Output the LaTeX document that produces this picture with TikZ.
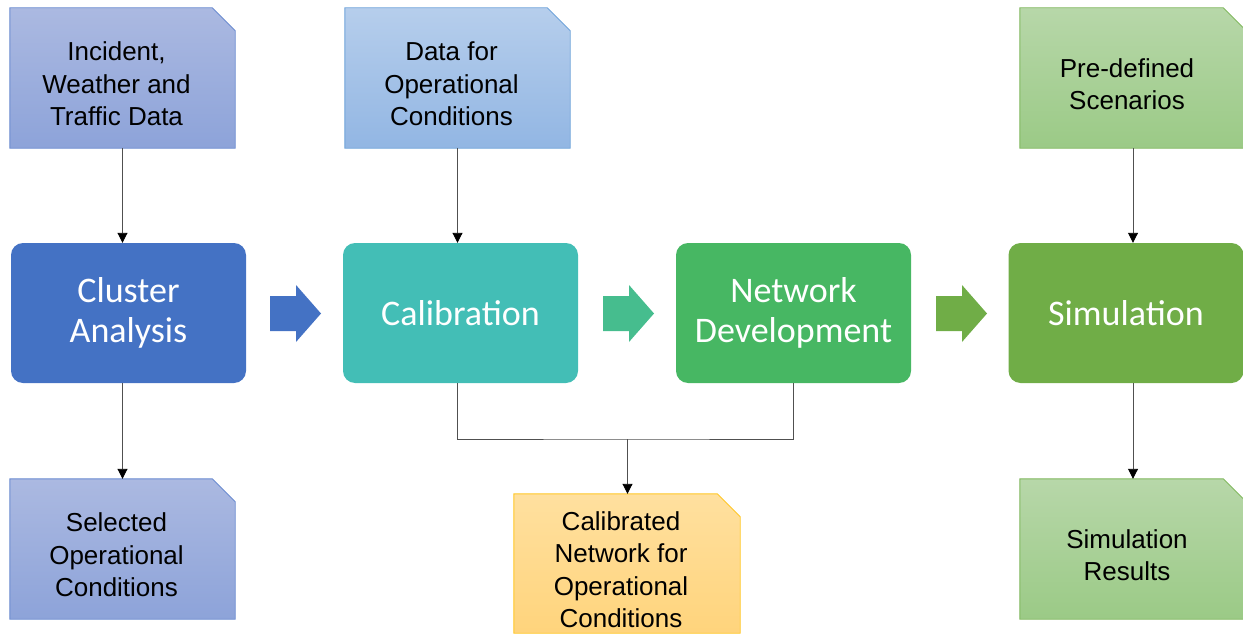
\documentclass[tikz,border=0pt]{standalone}
\usepackage{fontspec}
\setmainfont{Liberation Sans}
\newfontfamily\calibri{Carlito}
\usetikzlibrary{arrows.meta,backgrounds}

\definecolor{clublue}{HTML}{4472C4}
\definecolor{calteal}{HTML}{43BEB6}
\definecolor{netgreen}{HTML}{47B763}
\definecolor{simgreen}{HTML}{70AD47}
\definecolor{midgreen}{HTML}{46BD8E}
\definecolor{linegray}{HTML}{505050}
% document box fills and borders
\definecolor{bluetop}{HTML}{ABB9E1}
\definecolor{bluebot}{HTML}{8DA3D9}
\definecolor{blueedge}{HTML}{6A8BD0}
\definecolor{skytop}{HTML}{B6CEEC}
\definecolor{skybot}{HTML}{92B6E3}
\definecolor{skyedge}{HTML}{6FA3DA}
\definecolor{greentop}{HTML}{B7D7A9}
\definecolor{greenbot}{HTML}{9BCA86}
\definecolor{greenedge}{HTML}{80B85E}
\definecolor{yeltop}{HTML}{FFE09F}
\definecolor{yelbot}{HTML}{FFD47C}
\definecolor{yeledge}{HTML}{FFC726}

% document box with snipped top-right corner
\newcommand\snipbox[4]{%
  \shade[top color=#2,bottom color=#3,draw=#4,line width=0.9pt]
    (#1.south west) -- (#1.north west) -- ([xshift=-23pt]#1.north east)
    -- ([yshift=-23pt]#1.north east) -- (#1.south east) -- cycle;}

\tikzset{
  docbox/.style={rectangle,minimum width=225pt,minimum height=140pt,inner sep=0pt},
  doctext/.style={align=center,inner sep=0pt,text=black,
    font=\fontsize{26}{32.5}\selectfont},
  stage/.style={rectangle,rounded corners=12pt,minimum width=235pt,
    minimum height=140pt,inner sep=0pt,text=white,align=center,
    font=\calibri\fontsize{36}{40}\selectfont},
  conn/.style={draw=linegray,line width=0.9pt,-{Triangle[width=10pt,length=10pt,color=black]}},
  plain/.style={draw=linegray,line width=0.9pt},
  flowarrow/.pic={\fill (0,-17.5) -- (26,-17.5) -- (26,-28.5) -- (51,0)
    -- (26,28.5) -- (26,17.5) -- (0,17.5) -- cycle;}
}

\begin{document}
\begin{tikzpicture}[x=1pt,y=-1pt]
\useasboundingbox (0,0) rectangle (1243,634);

% input and output documents
\node[docbox] (inc) at (122.5,78) {};
\node[docbox] (data) at (457.5,78) {};
\node[docbox,minimum width=226pt] (pre) at (1133,78) {};
\node[docbox] (sel) at (122.5,549) {};
\node[docbox,minimum width=226pt,minimum height=139pt] (calnet) at (627,563.5) {};
\node[docbox,minimum width=226pt] (simres) at (1133,549) {};

\begin{scope}[on background layer]
  \snipbox{inc}{bluetop}{bluebot}{blueedge}
  \snipbox{sel}{bluetop}{bluebot}{blueedge}
  \snipbox{data}{skytop}{skybot}{skyedge}
  \snipbox{pre}{greentop}{greenbot}{greenedge}
  \snipbox{simres}{greentop}{greenbot}{greenedge}
  \snipbox{calnet}{yeltop}{yelbot}{yeledge}
\end{scope}

\node[doctext] (inc-t) at ([xshift=-6pt,yshift=-6pt]inc.center) {Incident,\\Weather and\\Traffic Data};
\node[doctext] (data-t) at ([xshift=-6pt,yshift=-6pt]data.center) {Data for\\Operational\\Conditions};
\node[doctext] (pre-t) at ([xshift=-6pt,yshift=-6pt]pre.center) {Pre-defined\\Scenarios};
\node[doctext] (sel-t) at ([xshift=-6pt,yshift=-6pt]sel.center) {Selected\\Operational\\Conditions};
\node[doctext] (calnet-t) at ([xshift=-6pt,yshift=-6pt]calnet.center) {Calibrated\\Network for\\Operational\\Conditions};
\node[doctext] (simres-t) at ([xshift=-6pt,yshift=-6pt]simres.center) {Simulation\\Results};

% process stages
\node[stage,fill=clublue] (clu) at (128.5,313) {Cluster\\Analysis};
\node[stage,fill=calteal] (calib) at (460.5,313) {Calibration};
\node[stage,fill=netgreen] (netw) at (793.5,313) {Network\\Development};
\node[stage,fill=simgreen] (sim) at (1126,313) {Simulation};

% flow arrows between stages
\pic[fill=clublue] at (270,313.5) {flowarrow};
\pic[fill=midgreen] at (603,313.5) {flowarrow};
\pic[fill=simgreen] at (936,313.5) {flowarrow};

% connectors
\draw[conn] (inc.south) -- (inc.south |- clu.north);
\draw[conn] (data.south) -- (data.south |- calib.north);
\draw[conn] (pre.south) -- (pre.south |- sim.north);
\draw[conn] (clu.south -| sel.north) -- (sel.north);
\draw[conn] (sim.south -| simres.north) -- (simres.north);
\coordinate (join) at (627.5,439);
\draw[plain] (calib.south -| data.south) |- (join) -- (join -| netw.south) -- (netw.south);
\draw[conn] (join) -- (join |- calnet.north);
\end{tikzpicture}
\end{document}
